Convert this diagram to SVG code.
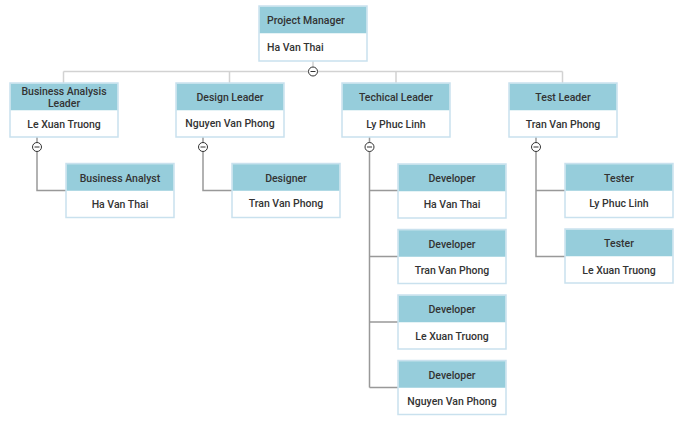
<svg xmlns="http://www.w3.org/2000/svg" width="682" height="428" viewBox="0 0 682 428">
<style>
.box{fill:#fff;stroke:#c9e1ee;stroke-width:1.5}
.hd{fill:#96cddb}
.t{font-family:Roboto,"Liberation Sans",sans-serif;font-size:10.5px;font-weight:500;fill:#333}
.c{text-anchor:middle}
.top{stroke:#d2d2d2;stroke-width:1.5;fill:none}
.lk{stroke:#999;stroke-width:1.5;fill:none}
.tg{fill:#fff;stroke:#333;stroke-width:1}
</style>
<rect width="682" height="428" fill="#fff"/>
<g id="connectors">
<path class="top" d="M313 61V71.5M63.5 71.5H562.5M63.5 71.5V83M229.5 71.5V83M396 71.5V83M562.5 71.5V83"/>
<path class="lk" d="M37 137V190.5H66"/>
<path class="lk" d="M203 137V190.5H232"/>
<path class="lk" d="M369.5 137V387.5M369.5 190.5H398M369.5 256.5H398M369.5 322H398M369.5 387.5H398"/>
<path class="lk" d="M536 137V256.5H565M536 190.5H565"/>
<g id="toggles">
<g class="tg"><circle cx="313" cy="71.5" r="4.5"/><path d="M310.5 71.5H315.5"/></g>
<g class="tg"><circle cx="37" cy="147" r="4.5"/><path d="M34.5 147H39.5"/></g>
<g class="tg"><circle cx="203" cy="147" r="4.5"/><path d="M200.5 147H205.5"/></g>
<g class="tg"><circle cx="369.5" cy="147" r="4.5"/><path d="M367 147H372"/></g>
<g class="tg"><circle cx="536" cy="147" r="4.5"/><path d="M533.5 147H538.5"/></g>
</g>
</g>
<g id="pm"><rect class="box" x="259" y="6" width="108" height="55"/><rect class="hd" x="259.75" y="6.75" width="106.5" height="26.5"/><text class="t" x="267" y="23.5">Project Manager</text><text class="t" x="267" y="51">Ha Van Thai</text></g>
<g id="ba-leader"><rect class="box" x="10" y="83" width="108" height="54"/><rect class="hd" x="10.75" y="83.75" width="106.5" height="26.5"/><text class="t c" x="64" y="95">Business Analysis</text><text class="t c" x="64" y="106.5">Leader</text><text class="t c" x="64" y="127.5">Le Xuan Truong</text></g>
<g id="design-leader"><rect class="box" x="176" y="83" width="108" height="54"/><rect class="hd" x="176.75" y="83.75" width="106.5" height="26.5"/><text class="t c" x="230" y="100.5">Design Leader</text><text class="t c" x="230" y="127">Nguyen Van Phong</text></g>
<g id="tech-leader"><rect class="box" x="342" y="83" width="108" height="54"/><rect class="hd" x="342.75" y="83.75" width="106.5" height="26.5"/><text class="t c" x="396" y="100.5">Techical Leader</text><text class="t c" x="396" y="127.5">Ly Phuc Linh</text></g>
<g id="test-leader"><rect class="box" x="509" y="83" width="108" height="54"/><rect class="hd" x="509.75" y="83.75" width="106.5" height="26.5"/><text class="t c" x="563" y="100.5">Test Leader</text><text class="t c" x="563" y="127.5">Tran Van Phong</text></g>
<g id="ba"><rect class="box" x="66" y="163.5" width="108" height="54"/><rect class="hd" x="66.75" y="164.25" width="106.5" height="26.5"/><text class="t c" x="120" y="181.5">Business Analyst</text><text class="t c" x="120" y="207.5">Ha Van Thai</text></g>
<g id="designer"><rect class="box" x="232" y="163.5" width="108" height="54"/><rect class="hd" x="232.75" y="164.25" width="106.5" height="26.5"/><text class="t c" x="286" y="181.5">Designer</text><text class="t c" x="286" y="206.5">Tran Van Phong</text></g>
<g id="dev1"><rect class="box" x="398" y="164" width="108" height="54"/><rect class="hd" x="398.75" y="164.75" width="106.5" height="26.5"/><text class="t c" x="452" y="181.5">Developer</text><text class="t c" x="452" y="208">Ha Van Thai</text></g>
<g id="dev2"><rect class="box" x="398" y="229.5" width="108" height="54"/><rect class="hd" x="398.75" y="230.25" width="106.5" height="26.5"/><text class="t c" x="452" y="247.5">Developer</text><text class="t c" x="452" y="274">Tran Van Phong</text></g>
<g id="dev3"><rect class="box" x="398" y="295" width="108" height="54"/><rect class="hd" x="398.75" y="295.75" width="106.5" height="26.5"/><text class="t c" x="452" y="313">Developer</text><text class="t c" x="452" y="339.5">Le Xuan Truong</text></g>
<g id="dev4"><rect class="box" x="398" y="360.5" width="108" height="54"/><rect class="hd" x="398.75" y="361.25" width="106.5" height="26.5"/><text class="t c" x="452" y="378.5">Developer</text><text class="t c" x="452" y="405">Nguyen Van Phong</text></g>
<g id="tester1"><rect class="box" x="565" y="163.5" width="108" height="54"/><rect class="hd" x="565.75" y="164.25" width="106.5" height="26.5"/><text class="t c" x="619" y="181.5">Tester</text><text class="t c" x="619" y="206.5">Ly Phuc Linh</text></g>
<g id="tester2"><rect class="box" x="565" y="229" width="108" height="54"/><rect class="hd" x="565.75" y="229.75" width="106.5" height="26.5"/><text class="t c" x="619" y="246.5">Tester</text><text class="t c" x="619" y="273.5">Le Xuan Truong</text></g>
</svg>
